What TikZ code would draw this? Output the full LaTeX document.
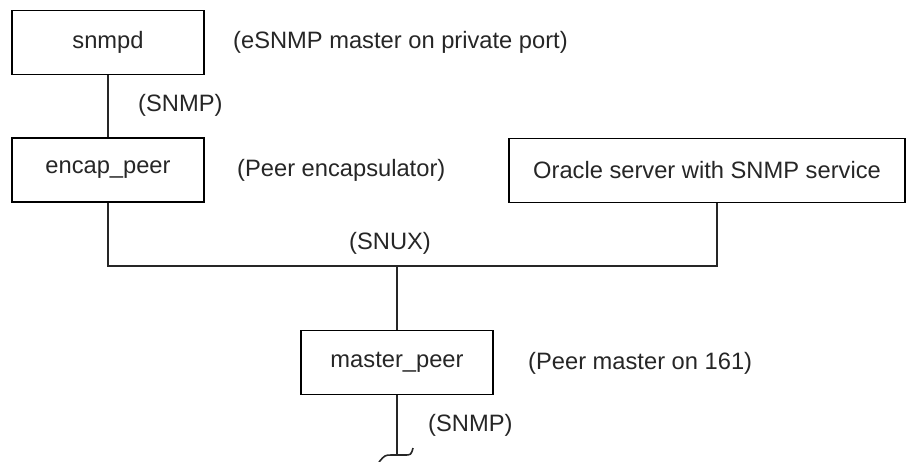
\documentclass[tikz,border=0pt]{standalone}
\usepackage{fontspec}
\setmainfont{Liberation Sans}

\begin{document}
\begin{tikzpicture}[x=1pt, y=-1pt,
    every node/.style={font=\fontsize{23.7}{28}\selectfont, text=black!85},
    box/.style={draw, line width=1.2pt, minimum width=192pt, minimum height=64pt, inner sep=0pt},
    lbl/.style={anchor=west, inner sep=0pt},
    link/.style={line width=2pt, black!85}]
  \useasboundingbox (0,0) rectangle (912,461);

  % boxes
  \node[box] (snmpd) at (108,42.5) {snmpd};
  \node[box] (encap) at (108,170) {encap\_peer};
  \node[box, minimum width=396pt] (oracle) at (707,170.5) {Oracle server with SNMP service};
  \node[box] (master) at (397,362.5) {master\_peer};

  % notes
  \node[lbl] (snmpdnote) at (233,42.5) {(eSNMP master on private port)};
  \node[lbl] (snmptop) at (138,105) {(SNMP)};
  \node[lbl] (encapnote) at (237,170) {(Peer encapsulator)};
  \node (snux) at (390,243) {(SNUX)};
  \node[lbl] (masternote) at (528,363) {(Peer master on 161)};
  \node[lbl] (snmpbot) at (428,425) {(SNMP)};

  % links
  \coordinate (bus) at (397,266);
  \coordinate (tail) at (397,455);
  \draw[link] (snmpd) -- (encap);
  \draw[link] (encap.south) |- (bus) -| ([xshift=10pt]oracle.south);
  \draw[link] (bus) -- (master.north);
  \draw[link] (master.south) -- (tail);
  \draw[link, line width=1.6pt] (379,462) .. controls (385,455) .. (392,455) -- (tail)
    -- (404,455) .. controls (411,455) .. (413,448);
\end{tikzpicture}
\end{document}
